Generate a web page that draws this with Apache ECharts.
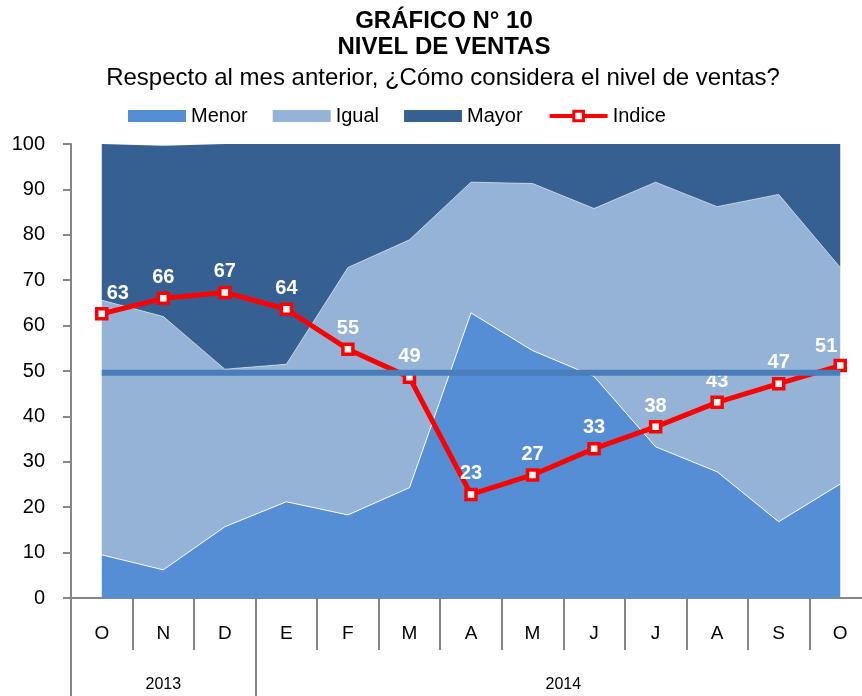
<!DOCTYPE html>
<html>
<head>
<meta charset="utf-8">
<script src="https://cdn.jsdelivr.net/npm/echarts@6/dist/echarts.min.js"></script>
<style>
  html, body { margin: 0; padding: 0; background: #fff; }
  #main { width: 862px; height: 696px; }
</style>
</head>
<body>
<div id="main"></div>
<script>
// datos del grafico
const meses = ['O', 'N', 'D', 'E', 'F', 'M', 'A', 'M', 'J', 'J', 'A', 'S', 'O'];
const anios = ['2013', '2014'];
const menor = [9.5, 6.2, 15.7, 21.2, 18.3, 24.3, 62.8, 54.5, 48.8, 33.3, 27.8, 16.8, 25.1];
const igual = [56.1, 55.8, 34.7, 30.3, 54.5, 54.6, 28.8, 36.8, 37.0, 58.3, 58.4, 72.1, 47.7];
const mayor = [34.4, 37.6, 49.6, 48.5, 27.2, 21.1, 8.4, 8.7, 14.2, 8.4, 13.8, 11.1, 27.2];
const indice = [62.6, 66.0, 67.3, 63.6, 54.8, 48.6, 22.8, 27.1, 32.9, 37.7, 43.1, 47.2, 51.2];
const promedio = [49.6, 49.6, 49.6, 49.6, 49.6, 49.6, 49.6, 49.6, 49.6, 49.6, 49.6, 49.6, 49.6];

const fuente = "'Liberation Sans', Arial, sans-serif";
const gris = '#868686';
const rojo = '#FF0000';

let chart = echarts.init(document.getElementById('main'));

// etiquetas del indice: la primera y la ultima se corren hacia adentro
let indiceData = indice.map(function (v, i) {
  let item = { value: v };
  if (i === 0) item.label = { offset: [16, 0] };
  if (i === indice.length - 1) item.label = { offset: [-14, 2] };
  return item;
});

function area(name, data, color, borde) {
  return {
    name: name,
    type: 'line',
    stack: 'total',
    data: data,
    symbol: 'none',
    showSymbol: false,
    itemStyle: { color: color },
    lineStyle: { color: '#fff', width: borde, opacity: 0.9 },
    areaStyle: { color: color, opacity: 1 },
    z: 1
  };
}

let option = {
  animation: false,
  textStyle: { fontFamily: fuente },
  title: [{
    text: 'GRÁFICO N° 10\nNIVEL DE VENTAS',
    left: 439,
    textAlign: 'center',
    top: 3,
    textStyle: { fontFamily: fuente, fontSize: 24, fontWeight: 'bold', color: '#000', lineHeight: 26 }
  }, {
    text: 'Respecto al mes anterior, ¿Cómo considera el nivel de ventas?',
    left: 438,
    textAlign: 'center',
    top: 61,
    textStyle: { fontFamily: fuente, fontSize: 24, fontWeight: 'normal', color: '#000' }
  }],
  legend: {
    left: 123,
    top: 101,
    itemWidth: 58,
    itemHeight: 12,
    itemGap: 25,
    data: [
      { name: 'Menor', icon: 'rect' },
      { name: 'Igual', icon: 'rect' },
      { name: 'Mayor', icon: 'rect' },
      { name: 'Indice', itemStyle: { borderWidth: 3 }, lineStyle: { width: 4 } }
    ],
    textStyle: { fontFamily: fuente, fontSize: 20, color: '#000' }
  },
  grid: [
    { left: 71, width: 800, top: 144, bottom: 98, outerBoundsMode: 'none' },
    { left: 71, width: 800, top: 144, bottom: 98, outerBoundsMode: 'none' }
  ],
  xAxis: [{
    type: 'category',
    gridIndex: 0,
    data: meses,
    boundaryGap: true,
    axisLine: { lineStyle: { color: gris, width: 2 } },
    axisTick: { show: true, interval: 0, length: 52, lineStyle: { color: gris, width: 2 } },
    axisLabel: { interval: 0, margin: 26, fontSize: 19, color: '#000', fontFamily: fuente }
  }, {
    type: 'value',
    gridIndex: 1,
    min: 0,
    max: 13,
    splitLine: { show: false },
    axisLine: { show: false },
    axisTick: { show: true, customValues: [0, 3, 13], length: 100, lineStyle: { color: gris, width: 2 } },
    axisLabel: {
      customValues: [1.5, 8],
      margin: 79,
      fontSize: 16,
      color: '#000',
      fontFamily: fuente,
      formatter: function (v) { return v < 3 ? anios[0] : anios[1]; }
    }
  }],
  yAxis: [{
    type: 'value',
    gridIndex: 0,
    min: 0,
    max: 100,
    interval: 10,
    splitLine: { show: false },
    axisLine: { show: true, lineStyle: { color: gris, width: 2 } },
    axisTick: { show: true, length: 8, lineStyle: { color: gris, width: 2 } },
    axisLabel: { margin: 26, fontSize: 20, color: '#000', fontFamily: fuente }
  }, {
    type: 'value',
    gridIndex: 1,
    show: false
  }],
  series: [
    area('Menor', menor, '#558ED5', 1),
    area('Igual', igual, '#95B3D7', 0.6),
    area('Mayor', mayor, '#366092', 0),
    {
      name: 'Indice',
      type: 'line',
      data: indiceData,
      symbol: 'rect',
      symbolSize: 10,
      lineStyle: { color: rojo, width: 5 },
      itemStyle: { color: '#fff', borderColor: rojo, borderWidth: 3.5 },
      label: {
        show: true,
        position: 'top',
        distance: 4,
        color: '#fff',
        fontSize: 20,
        fontWeight: 'bold',
        fontFamily: fuente,
        formatter: function (p) { return Math.round(p.value); }
      },
      z: 3
    },
    {
      name: 'Promedio',
      type: 'line',
      data: promedio,
      symbol: 'none',
      lineStyle: { color: '#4A7EBB', width: 6 },
      z: 4
    }
  ]
};

chart.setOption(option);
</script>
</body>
</html>
